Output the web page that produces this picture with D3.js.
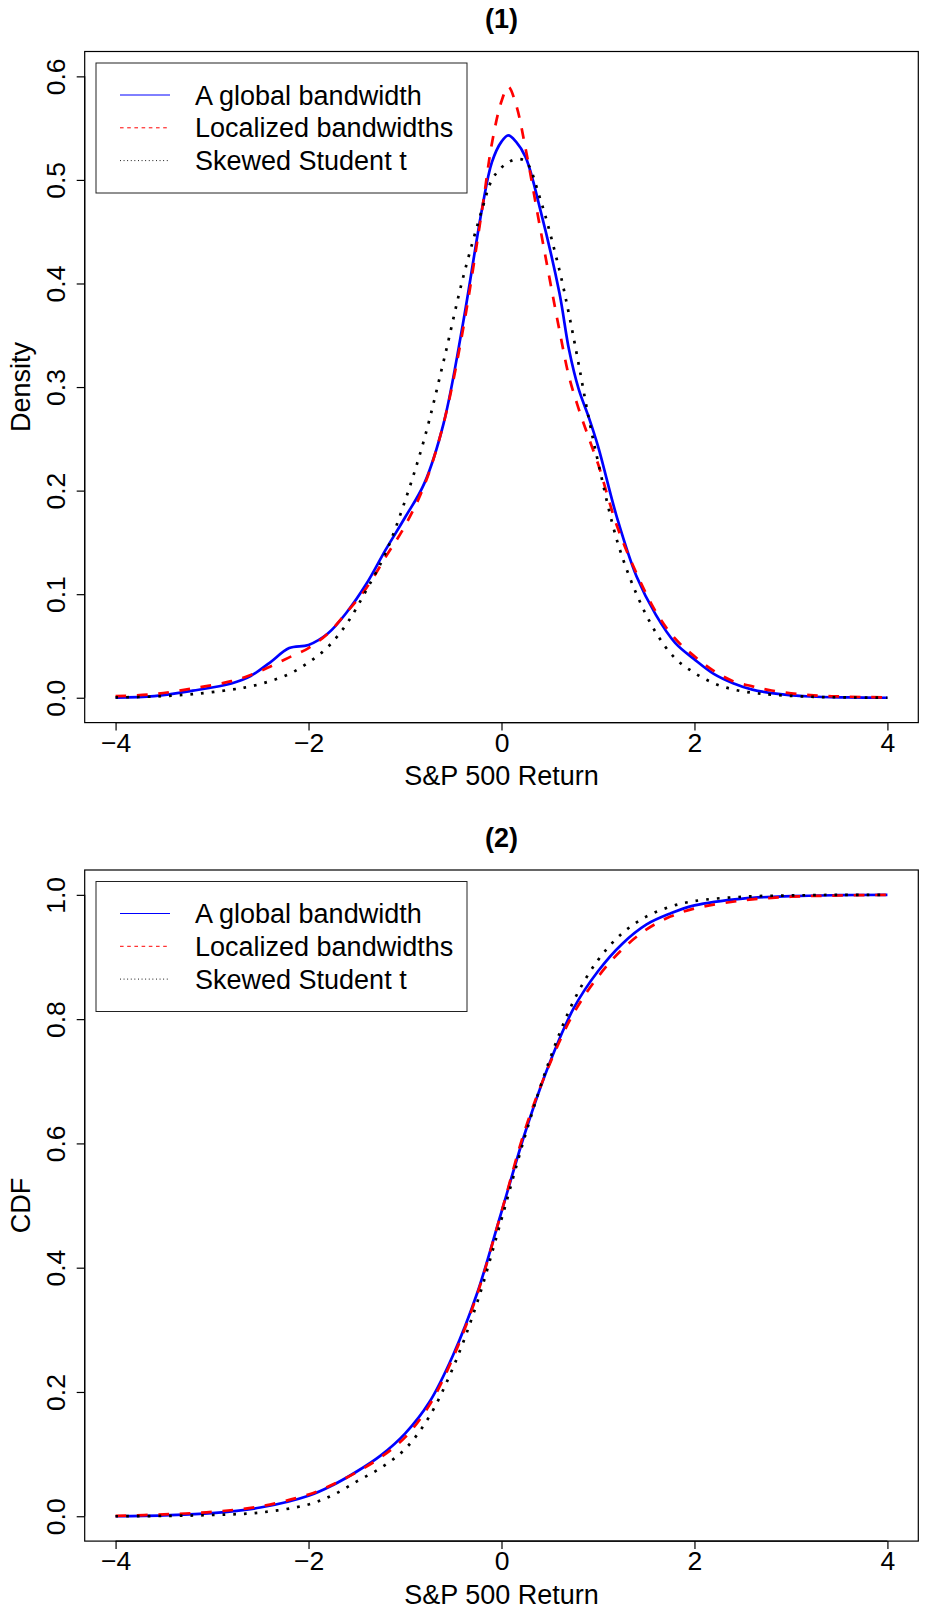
<!DOCTYPE html>
<html>
<head>
<meta charset="utf-8">
<script src="https://cdn.jsdelivr.net/npm/d3@7"></script>
<style>
  body { margin: 0; background: #fff; }
  svg { display: block; font-family: "Liberation Sans", Arial, Helvetica, sans-serif; }
</style>
</head>
<body>
<div id="chart"></div>
<script>
// ---- data ----
// panel (1): densities
const densX = [-4, -3.6, -3.2, -2.8, -2.6, -2.4, -2.2, -2.0, -1.8, -1.6, -1.4, -1.2, -1.0, -0.8, -0.6, -0.4, -0.2, -0.1, 0, 0.07, 0.15, 0.25, 0.4, 0.6, 0.7, 0.8, 0.9, 1.0, 1.2, 1.4, 1.6, 1.8, 2.0, 2.2, 2.4, 2.6, 2.8, 3.2, 3.6, 4];
const densGlobal = [0, 0.0015, 0.0068, 0.0138, 0.021, 0.034, 0.048, 0.051, 0.062, 0.083, 0.110, 0.143, 0.174, 0.207, 0.265, 0.361, 0.473, 0.517, 0.537, 0.543, 0.537, 0.522, 0.472, 0.391, 0.336, 0.298, 0.272, 0.243, 0.173, 0.117, 0.080, 0.053, 0.037, 0.023, 0.014, 0.0078, 0.0045, 0.0012, 0.0003, 0];
const densLocal = [0.0015, 0.0035, 0.009, 0.016, 0.022, 0.030, 0.039, 0.048, 0.062, 0.083, 0.106, 0.136, 0.166, 0.205, 0.265, 0.355, 0.472, 0.535, 0.576, 0.590, 0.573, 0.530, 0.454, 0.355, 0.310, 0.279, 0.252, 0.226, 0.165, 0.120, 0.083, 0.057, 0.040, 0.026, 0.016, 0.011, 0.007, 0.0025, 0.001, 0.0003];
const densSkewT = [0.0003, 0.0012, 0.0035, 0.0078, 0.011, 0.016, 0.023, 0.034, 0.049, 0.072, 0.104, 0.140, 0.190, 0.250, 0.325, 0.405, 0.472, 0.500, 0.512, 0.517, 0.520, 0.518, 0.482, 0.413, 0.370, 0.322, 0.272, 0.228, 0.151, 0.100, 0.063, 0.038, 0.024, 0.014, 0.008, 0.0048, 0.003, 0.001, 0.0003, 0];

// panel (2): CDFs
const cdfX = [-4, -3.5, -3, -2.5, -2, -1.75, -1.5, -1.25, -1, -0.75, -0.5, -0.25, 0, 0.25, 0.5, 0.75, 1, 1.25, 1.5, 1.75, 2, 2.5, 3, 3.5, 4];
const cdfGlobal = [0, 0.0015, 0.005, 0.014, 0.033, 0.050, 0.072, 0.098, 0.133, 0.183, 0.26, 0.36, 0.49, 0.62, 0.73, 0.818, 0.877, 0.921, 0.952, 0.970, 0.983, 0.994, 0.998, 0.9995, 1.0];
const cdfLocal = [0.0005, 0.003, 0.007, 0.016, 0.035, 0.051, 0.071, 0.095, 0.127, 0.178, 0.256, 0.358, 0.49, 0.625, 0.728, 0.81, 0.868, 0.912, 0.944, 0.965, 0.978, 0.991, 0.997, 0.999, 1.0];
const cdfSkewT = [0, 0.0005, 0.002, 0.006, 0.019, 0.034, 0.056, 0.078, 0.108, 0.16, 0.24, 0.345, 0.478, 0.615, 0.735, 0.83, 0.895, 0.938, 0.965, 0.981, 0.99, 0.997, 0.999, 1.0, 1.0];

const xTicks = [-4, -2, 0, 2, 4];
const densTicks = [0, 0.1, 0.2, 0.3, 0.4, 0.5, 0.6];
const cdfTicks = [0, 0.2, 0.4, 0.6, 0.8, 1.0];
const legendLabels = ["A global bandwidth", "Localized bandwidths", "Skewed Student t"];

// ---- styles ----
const styles = [
  { color: "#0000ff", dash: null, legendDash: null },
  { color: "#ff0000", dash: "10.7,10.7", legendDash: "3.6,3.6" },
  { color: "#000000", dash: "2.7,8", legendDash: "0.9,2.7" }
];
const font = 27;

const svg = d3.select("#chart").append("svg")
  .attr("width", 927)
  .attr("height", 1621);

function drawPanel(cfg) {
  const off = cfg.offset;
  const box = { left: 84.7, right: 918.3, top: 51.5 + off, bottom: 722.6 + off };
  const midX = (box.left + box.right) / 2;
  const midY = (box.top + box.bottom) / 2;

  const x = d3.scaleLinear().domain([-4.32, 4.32]).range([box.left, box.right]);
  const y = d3.scaleLinear().domain(cfg.yDomain).range([box.bottom, box.top]);

  const g = svg.append("g");

  // title
  g.append("text")
    .attr("x", midX)
    .attr("y", 28 + off)
    .attr("text-anchor", "middle")
    .style("font-size", font + "px")
    .style("font-weight", "bold")
    .text(cfg.title);

  // curves, smooth through the read points
  const line = d3.line()
    .x(d => x(d[0]))
    .y(d => y(d[1]))
    .curve(d3.curveCatmullRom.alpha(0.5));

  cfg.series.forEach((vals, i) => {
    g.append("path")
      .datum(d3.zip(cfg.xs, vals))
      .attr("fill", "none")
      .attr("stroke", styles[i].color)
      .attr("stroke-width", 2.7)
      .attr("stroke-dasharray", styles[i].dash)
      .attr("d", line);
  });

  // x axis
  const xAxis = g.append("g")
    .attr("transform", `translate(0,${box.bottom})`)
    .call(d3.axisBottom(x).tickValues(xTicks).tickSize(8).tickFormat(d3.format("d")));
  xAxis.select(".domain").remove();
  xAxis.attr("font-size", null).attr("font-family", null);
  xAxis.selectAll("line").attr("stroke", "#000").attr("stroke-width", 1.2);
  xAxis.selectAll("text")
    .attr("y", 29)
    .attr("dy", null)
    .style("font-size", "26.5px")
    .attr("fill", "#000");
  xAxis.append("line")
    .attr("x1", x(xTicks[0])).attr("x2", x(xTicks[xTicks.length - 1]))
    .attr("stroke", "#000").attr("stroke-width", 1.2);

  // y axis
  const yTicks = cfg.yTicks;
  const yAxis = g.append("g")
    .attr("transform", `translate(${box.left},0)`)
    .call(d3.axisLeft(y).tickValues(yTicks).tickSize(8).tickFormat(d3.format(".1f")));
  yAxis.select(".domain").remove();
  yAxis.attr("font-size", null).attr("font-family", null);
  yAxis.selectAll("line").attr("stroke", "#000").attr("stroke-width", 1.2);
  yAxis.selectAll("text")
    .attr("transform", "rotate(-90)")
    .attr("x", 0)
    .attr("y", -19.7)
    .attr("dy", null)
    .attr("text-anchor", "middle")
    .style("font-size", "26.5px")
    .attr("fill", "#000");
  yAxis.append("line")
    .attr("y1", y(yTicks[0])).attr("y2", y(yTicks[yTicks.length - 1]))
    .attr("stroke", "#000").attr("stroke-width", 1.2);

  // plot box
  g.append("rect")
    .attr("x", box.left).attr("y", box.top)
    .attr("width", box.right - box.left).attr("height", box.bottom - box.top)
    .attr("fill", "none").attr("stroke", "#000").attr("stroke-width", 1.2);

  // axis titles
  g.append("text")
    .attr("x", midX).attr("y", 785 + off)
    .attr("text-anchor", "middle")
    .style("font-size", font + "px")
    .text("S&P 500 Return");

  g.append("text")
    .attr("transform", `translate(30,${midY}) rotate(-90)`)
    .attr("text-anchor", "middle")
    .style("font-size", font + "px")
    .text(cfg.yLabel);

  // legend
  const lg = g.append("g").attr("transform", `translate(96,${63 + off})`);
  lg.append("rect")
    .attr("width", 371).attr("height", 130)
    .attr("fill", "#fff").attr("stroke", "#222").attr("stroke-width", 1);
  legendLabels.forEach((label, i) => {
    const ly = 32 + i * 32.8;
    lg.append("line")
      .attr("x1", 24).attr("x2", 74)
      .attr("y1", ly).attr("y2", ly)
      .attr("stroke", styles[i].color)
      .attr("stroke-width", 1)
      .attr("stroke-dasharray", styles[i].legendDash);
    lg.append("text")
      .attr("x", 99).attr("y", ly + 9.5)
      .style("font-size", font + "px")
      .text(label);
  });
}

drawPanel({
  offset: 0,
  title: "(1)",
  yLabel: "Density",
  yDomain: [-0.024, 0.624],
  yTicks: densTicks,
  xs: densX,
  series: [densGlobal, densLocal, densSkewT]
});

drawPanel({
  offset: 818.5,
  title: "(2)",
  yLabel: "CDF",
  yDomain: [-0.04, 1.04],
  yTicks: cdfTicks,
  xs: cdfX,
  series: [cdfGlobal, cdfLocal, cdfSkewT]
});
</script>
</body>
</html>
